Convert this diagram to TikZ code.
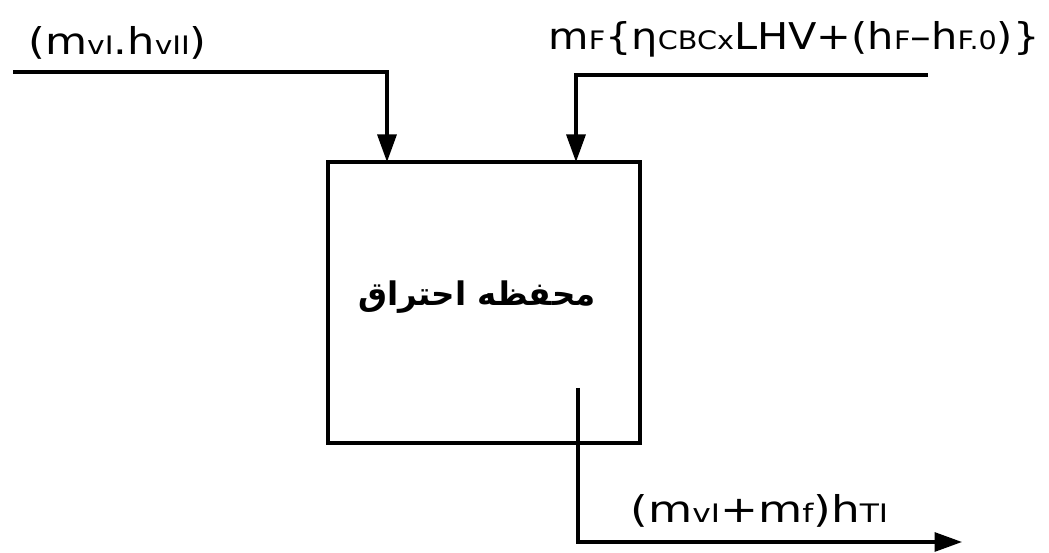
\documentclass[tikz,border=0pt]{standalone}
\usepackage{fontspec}
\setmainfont{DejaVu Sans}
\newfontfamily\arabicfont[Script=Arabic]{DejaVu Sans}
\TeXXeTstate=1
\usetikzlibrary{arrows.meta}
\newcommand{\sbs}[1]{{\fontsize{14.5}{14}\selectfont #1}}
\begin{document}
\begin{tikzpicture}[x=0.02cm,y=-0.02cm,
  flow/.style={line width=1.8pt,-{Triangle[length=0.55cm,width=0.38cm]}},
  lab/.style={anchor=base west,inner sep=0pt,font=\fontsize{21}{24}\selectfont}]
\useasboundingbox (0,0) rectangle (1049,553);
\node[draw,line width=1.9pt,minimum width=6.24cm,minimum height=5.62cm,inner sep=0pt] (box) at (484,302.5) {};
\node[font=\arabicfont\bfseries\fontsize{18.5}{22}\selectfont] (name) at (477,297) {\beginR محفظه احتراق\endR};
\coordinate (inL) at (13,72);
\coordinate (tL) at (387,162);
\coordinate (inR) at (928,75);
\coordinate (tR) at (576,162);
\coordinate (outS) at (578,388);
\coordinate (outE) at (962,542);
\draw[flow] (inL) -| (tL);
\draw[flow] (inR) -| (tR);
\draw[flow] (outS) |- (outE);
\node[lab] (l1) at (28,55) {\scalebox{1.17}[1]{(m\sbs{vI}.h\sbs{vII})}};
\node[lab] (l2) at (548,50) {\scalebox{1.125}[1]{m\sbs{F}\{η\sbs{CBCx}LHV+(h\sbs{F}–h\sbs{F.0})\}}};
\node[lab] (l3) at (630,523) {\scalebox{1.23}[1]{(m\sbs{vI}+m\sbs{f})h\sbs{TI}}};
\end{tikzpicture}
\end{document}
